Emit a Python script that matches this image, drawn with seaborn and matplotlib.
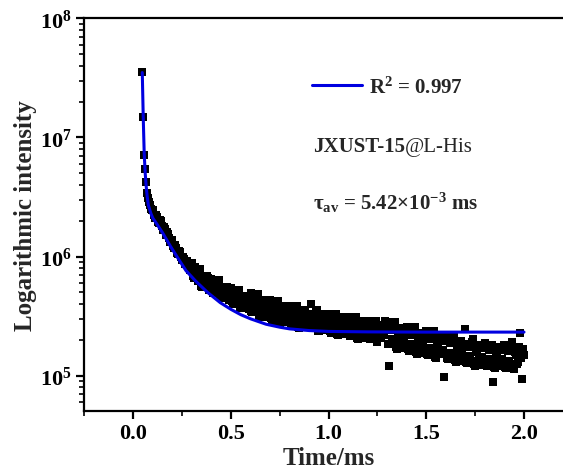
import matplotlib
matplotlib.use("Agg")
import numpy as np
import pandas as pd
import matplotlib.pyplot as plt
import seaborn as sns
from matplotlib.ticker import FixedLocator, FixedFormatter, LogLocator, MultipleLocator, NullFormatter

# ---- data (intensity in units of 1e5 counts) ----
time_ms = [
    0.046, 0.051, 0.056, 0.061, 0.066, 0.071, 0.076, 0.081, 0.086, 0.091, 0.096,
    0.10, 0.11, 0.12, 0.13, 0.14, 0.15, 0.16, 0.17, 0.18, 0.19,
    0.20, 0.21, 0.22, 0.23, 0.24, 0.25, 0.26, 0.27, 0.28, 0.29,
    0.30, 0.31, 0.32, 0.33, 0.34, 0.35, 0.36, 0.37, 0.38, 0.39,
    0.40, 0.41, 0.42, 0.43, 0.44, 0.45, 0.46, 0.47, 0.48, 0.49,
    0.50, 0.51, 0.52, 0.53, 0.54, 0.55, 0.56, 0.57, 0.58, 0.59,
    0.60, 0.61, 0.62, 0.63, 0.64, 0.65, 0.66, 0.67, 0.68, 0.69,
    0.70, 0.71, 0.72, 0.73, 0.74, 0.75, 0.76, 0.77, 0.78, 0.79,
    0.80, 0.81, 0.82, 0.83, 0.84, 0.85, 0.86, 0.87, 0.88, 0.89,
    0.90, 0.91, 0.92, 0.93, 0.94, 0.95, 0.96, 0.97, 0.98, 0.99,
    1.00, 1.01, 1.02, 1.03, 1.04, 1.05, 1.06, 1.07, 1.08, 1.09,
    1.10, 1.11, 1.12, 1.13, 1.14, 1.15, 1.16, 1.17, 1.18, 1.19,
    1.20, 1.21, 1.22, 1.23, 1.24, 1.25, 1.26, 1.27, 1.28, 1.29,
    1.30, 1.31, 1.32, 1.33, 1.34, 1.35, 1.36, 1.37, 1.38, 1.39,
    1.40, 1.41, 1.42, 1.43, 1.44, 1.45, 1.46, 1.47, 1.48, 1.49,
    1.50, 1.51, 1.52, 1.53, 1.54, 1.55, 1.56, 1.57, 1.58, 1.59,
    1.60, 1.61, 1.62, 1.63, 1.64, 1.65, 1.66, 1.67, 1.68, 1.69,
    1.70, 1.71, 1.72, 1.73, 1.74, 1.75, 1.76, 1.77, 1.78, 1.79,
    1.80, 1.81, 1.82, 1.83, 1.84, 1.85, 1.86, 1.87, 1.88, 1.89,
    1.90, 1.91, 1.92, 1.93, 1.94, 1.95, 1.96, 1.97, 1.98, 1.99,
    2.00,
]
intensity_e5 = [
    354, 148, 71, 54, 42, 34, 31, 28.5, 27, 25, 24.5,
    24.7, 21.1, 21.6, 19.1, 19.9, 16.7, 17.1, 15.3, 15.4, 13.2,
    13.7, 11.7, 11.9, 10.6, 11.0, 9.3, 9.6, 8.6, 8.8, 7.7,
    8.9, 6.6, 7.6, 6.2, 7.9, 5.6, 6.4, 5.6, 6.6, 5.2,
    6.5, 4.9, 5.8, 4.9, 6.3, 4.5, 5.2, 4.6, 5.5, 4.3,
    5.4, 4.0, 4.8, 4.05, 5.2, 3.7, 4.4, 3.9, 4.6, 3.65,
    4.9, 3.4, 4.3, 3.4, 4.8, 3.1, 3.75, 3.3, 4.2, 3.1,
    4.3, 2.9, 3.75, 3.0, 4.2, 2.75, 3.33, 2.97, 3.76, 2.8,
    3.85, 2.67, 3.4, 2.75, 3.85, 2.5, 3.05, 2.7, 3.45, 2.56,
    2.9, 4.0, 3.15, 2.55, 3.57, 2.35, 2.84, 2.54, 3.2, 2.4,
    3.3, 2.3, 2.94, 2.38, 3.32, 2.19, 2.65, 2.38, 3.0, 2.24,
    3.12, 2.17, 2.76, 2.24, 3.12, 2.05, 2.48, 2.21, 2.81, 2.09,
    2.9, 2.02, 2.57, 2.08, 2.9, 1.91, 2.31, 2.06, 2.61, 2.9,
    2.81, 1.2, 2.43, 1.86, 2.82, 1.68, 2.17, 1.86, 2.51, 1.7,
    2.56, 1.62, 2.21, 1.69, 2.56, 1.53, 1.98, 1.69, 2.28, 1.55,
    2.35, 1.49, 2.02, 1.56, 2.35, 1.4, 1.82, 1.55, 2.1, 0.98,
    2.15, 1.37, 1.87, 1.44, 2.17, 1.29, 1.68, 1.44, 1.94, 1.32,
    2.45, 1.27, 1.74, 1.33, 2.03, 1.21, 1.57, 1.35, 1.82, 1.24,
    1.88, 1.2, 1.64, 1.27, 0.89, 1.15, 1.5, 1.29, 1.75, 1.2,
    1.81, 1.16, 1.6, 1.24, 1.9, 1.14, 1.5, 1.29, 2.3, 0.94,
    1.5,
]
# interleaved samples (half-step)
time_ms_b = [
    0.105, 0.115, 0.125, 0.135, 0.145, 0.155, 0.165, 0.175, 0.185, 0.195,
    0.205, 0.215, 0.225, 0.235, 0.245, 0.255, 0.265, 0.275, 0.285, 0.295,
    0.305, 0.315, 0.325, 0.335, 0.345, 0.355, 0.365, 0.375, 0.385, 0.395,
    0.405, 0.415, 0.425, 0.435, 0.445, 0.455, 0.465, 0.475, 0.485, 0.495,
    0.505, 0.515, 0.525, 0.535, 0.545, 0.555, 0.565, 0.575, 0.585, 0.595,
    0.605, 0.615, 0.625, 0.635, 0.645, 0.655, 0.665, 0.675, 0.685, 0.695,
    0.705, 0.715, 0.725, 0.735, 0.745, 0.755, 0.765, 0.775, 0.785, 0.795,
    0.805, 0.815, 0.825, 0.835, 0.845, 0.855, 0.865, 0.875, 0.885, 0.895,
    0.905, 0.915, 0.925, 0.935, 0.945, 0.955, 0.965, 0.975, 0.985, 0.995,
    1.005, 1.015, 1.025, 1.035, 1.045, 1.055, 1.065, 1.075, 1.085, 1.095,
    1.105, 1.115, 1.125, 1.135, 1.145, 1.155, 1.165, 1.175, 1.185, 1.195,
    1.205, 1.215, 1.225, 1.235, 1.245, 1.255, 1.265, 1.275, 1.285, 1.295,
    1.305, 1.315, 1.325, 1.335, 1.345, 1.355, 1.365, 1.375, 1.385, 1.395,
    1.405, 1.415, 1.425, 1.435, 1.445, 1.455, 1.465, 1.475, 1.485, 1.495,
    1.505, 1.515, 1.525, 1.535, 1.545, 1.555, 1.565, 1.575, 1.585, 1.595,
    1.605, 1.615, 1.625, 1.635, 1.645, 1.655, 1.665, 1.675, 1.685, 1.695,
    1.705, 1.715, 1.725, 1.735, 1.745, 1.755, 1.765, 1.775, 1.785, 1.795,
    1.805, 1.815, 1.825, 1.835, 1.845, 1.855, 1.865, 1.875, 1.885, 1.895,
    1.905, 1.915, 1.925, 1.935, 1.945, 1.955, 1.965, 1.975, 1.985, 1.995,
]
intensity_b_e5 = [
    22.2, 22.5, 19.4, 20.3, 17.9, 17.8, 15.3, 16.2, 14.2, 13.7,
    12.3, 12.4, 10.7, 11.2, 9.9, 9.9, 8.6, 9.2, 8.2, 8.1,
    6.9, 8.1, 6.7, 7.9, 5.7, 6.7, 5.7, 6.8, 5.7, 6.2,
    5.1, 6.1, 5.2, 6.2, 4.6, 5.4, 4.6, 5.6, 4.7, 5.1,
    4.2, 5.0, 4.3, 5.2, 3.8, 4.5, 3.9, 4.7, 4.0, 4.4,
    3.47, 4.46, 3.69, 4.66, 3.18, 4.0, 3.36, 4.3, 3.48, 3.94,
    3.04, 3.91, 3.24, 4.1, 2.81, 3.55, 2.99, 3.85, 3.13, 3.55,
    2.75, 3.55, 2.95, 3.73, 2.56, 3.25, 2.74, 3.53, 2.87, 3.27,
    2.54, 3.28, 2.74, 3.47, 2.38, 3.02, 2.55, 3.29, 2.68, 3.05,
    2.37, 3.06, 2.55, 3.23, 2.22, 2.82, 2.39, 3.08, 2.52, 2.86,
    2.23, 2.88, 2.4, 3.04, 2.08, 2.64, 2.22, 2.87, 2.34, 2.66,
    2.07, 2.68, 2.23, 2.82, 1.94, 2.46, 2.07, 2.67, 2.18, 2.48,
    1.84, 2.55, 2.02, 2.66, 1.73, 2.31, 1.82, 2.48, 1.98, 2.31,
    1.67, 2.32, 1.84, 2.42, 1.58, 2.11, 1.66, 2.25, 1.8, 2.11,
    1.53, 2.13, 1.69, 2.22, 1.44, 1.93, 1.52, 2.08, 1.65, 1.94,
    1.41, 1.96, 1.55, 2.05, 1.34, 1.79, 1.41, 1.92, 1.54, 1.8,
    1.31, 1.83, 1.45, 1.92, 1.25, 1.67, 1.32, 1.81, 1.44, 1.69,
    1.23, 1.73, 1.37, 1.82, 1.18, 1.6, 1.26, 1.73, 1.39, 1.64,
    1.19, 1.67, 1.33, 1.78, 1.17, 1.58, 1.26, 1.73, 1.4, 1.66,
]
fit_time_ms = [0.046, 0.051, 0.056, 0.061, 0.066, 0.071, 0.077, 0.09, 0.10, 0.12,
               0.15, 0.19, 0.23, 0.27, 0.32, 0.38, 0.445, 0.50, 0.55, 0.60,
               0.68, 0.75, 0.80, 0.90, 1.00, 1.20, 1.50, 2.00]
fit_intensity_e5 = [350, 145, 72, 50, 39, 32, 27, 23, 21, 18.8,
                    15.8, 12.2, 9.6, 7.6, 6.2, 5.0, 4.1, 3.6, 3.25, 3.0,
                    2.7, 2.55, 2.47, 2.39, 2.35, 2.33, 2.32, 2.32]
y_ticks = [1e5, 1e6, 1e7, 1e8]
y_tick_labels = [r"$\mathrm{10^{5}}$", r"$\mathrm{10^{6}}$", r"$\mathrm{10^{7}}$", r"$\mathrm{10^{8}}$"]
x_ticks = [0.0, 0.5, 1.0, 1.5, 2.0]
x_tick_labels = ["0.0", "0.5", "1.0", "1.5", "2.0"]

data = pd.DataFrame({"t": time_ms + time_ms_b,
                     "I": np.array(intensity_e5 + intensity_b_e5) * 1e5})
fit = pd.DataFrame({"t": fit_time_ms, "I": np.array(fit_intensity_e5) * 1e5})

sns.set_theme(style="ticks", rc={"axes.edgecolor": "black", "xtick.color": "black",
                                 "ytick.color": "black", "axes.linewidth": 1.6})
plt.rcParams["font.family"] = ["Liberation Serif", "DejaVu Serif"]
plt.rcParams["font.weight"] = "bold"
plt.rcParams["mathtext.fontset"] = "custom"
plt.rcParams["mathtext.rm"] = "Liberation Serif:bold"
plt.rcParams["mathtext.bf"] = "Liberation Serif:bold"
plt.rcParams["mathtext.it"] = "Liberation Serif:bold:italic"

fig = plt.figure(figsize=(5.63, 4.77), dpi=100, facecolor="white")
ax = fig.add_axes([0.150, 0.1363, 0.8675, 0.8233])

sns.scatterplot(data=data, x="t", y="I", marker="s", s=34, color="black",
                linewidth=0, ax=ax, zorder=2)
sns.lineplot(data=fit, x="t", y="I", color="#0000e0", lw=2.2, ax=ax,
             estimator=None, sort=False, label=r"R$^{2}$ = 0.997", zorder=3)

ax.set_yscale("log")
ax.set_xlim(-0.25, 2.25)
ax.set_ylim(5.05e4, 1e8)

ax.xaxis.set_major_locator(FixedLocator(x_ticks))
ax.xaxis.set_major_formatter(FixedFormatter(x_tick_labels))
ax.xaxis.set_minor_locator(MultipleLocator(0.25))
ax.yaxis.set_major_locator(FixedLocator(y_ticks))
ax.yaxis.set_major_formatter(FixedFormatter(y_tick_labels))
ax.yaxis.set_minor_locator(LogLocator(base=10, subs=np.arange(2, 10)))
ax.yaxis.set_minor_formatter(NullFormatter())

ax.tick_params(which="major", direction="out", length=6, width=1.6, labelsize=16, pad=3)
ax.tick_params(which="minor", direction="out", length=3.5, width=1.2)
ax.tick_params(top=False, right=False)
for lab in ax.get_xticklabels() + ax.get_yticklabels():
    lab.set_fontweight("bold")

for s in ax.spines.values():
    s.set_linewidth(1.6)
    s.set_color("black")

ax.set_xlabel("Time/ms", fontsize=18, fontweight="bold", labelpad=2)
ax.set_ylabel("Logarithmic intensity", fontsize=18, fontweight="bold", labelpad=2)

h, l = ax.get_legend_handles_labels()
ax.legend(h, l, loc="center left", bbox_to_anchor=(0.466, 0.825), frameon=False,
          fontsize=15, handlelength=2.4, handletextpad=0.35, borderpad=0, borderaxespad=0)

t1 = ax.text(0.468, 0.662, "JXUST-15", transform=ax.transAxes, fontsize=15,
             fontweight="bold", va="baseline", ha="left")
ax.annotate("@L-His", xy=(1, 0), xycoords=t1, fontsize=15, fontweight="normal",
            va="bottom", ha="left")
ax.text(0.468, 0.514, r"τ$_{\mathrm{av}}$ = 5.42×10$^{\mathrm{-3}}$ ms", transform=ax.transAxes,
        fontsize=15, fontweight="bold", va="baseline", ha="left")

fig.savefig("out.png", dpi=100, facecolor="white")
